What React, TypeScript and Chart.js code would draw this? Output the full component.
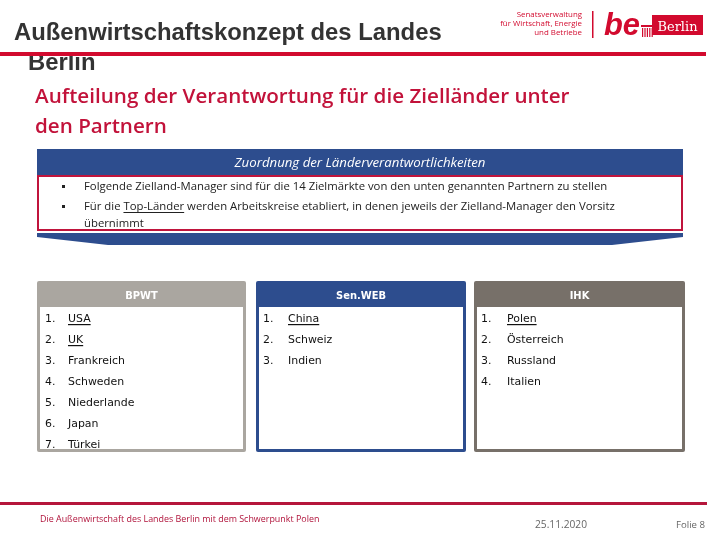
import React, { useEffect, useRef } from "react";
import { Chart, registerables } from "chart.js";

Chart.register(...registerables);

// ---------- content ----------
const titleLines = ["Außenwirtschaftskonzept des Landes", "Berlin"];
const subtitleLines = ["Aufteilung der Verantwortung für die Zielländer unter", "den Partnern"];
const bannerTitle = "Zuordnung der Länderverantwortlichkeiten";
const bulletLines = [
  "Folgende Zielland-Manager sind für die 14 Zielmärkte von den unten genannten Partnern zu stellen",
  "Für die Top-Länder werden Arbeitskreise etabliert, in denen jeweils der Zielland-Manager den Vorsitz",
];
const bulletContinuation = "übernimmt";
const underlinedPhrase = "Top-Länder";
const partners = ["BPWT", "Sen.WEB", "IHK"];
const bpwtCountries = ["USA", "UK", "Frankreich", "Schweden", "Niederlande", "Japan", "Türkei"];
const senwebCountries = ["China", "Schweiz", "Indien"];
const ihkCountries = ["Polen", "Österreich", "Russland", "Italien"];
const topCountries = ["USA", "UK", "China", "Polen"];
const logoLines = ["Senatsverwaltung", "für Wirtschaft, Energie", "und Betriebe"];
const logoWord = "be";
const logoBox = "Berlin";
const footerText = "Die Außenwirtschaft des Landes Berlin mit dem Schwerpunkt Polen";
const footerDate = "25.11.2020";
const footerSlide = "Folie 8";

const RED = "#d20a2e";
const DARKRED = "#b5163b";
const BLUE = "#2d4d8e";
const GREY1 = "#aaa6a0";
const GREY2 = "#777069";

function fontStr(style: string, weight: string, size: number, family: string) {
  return `${style} ${weight} ${size}px ${family}`;
}

function sizeFor(ctx: CanvasRenderingContext2D, text: string, family: string, weight: string, style: string, width: number) {
  ctx.font = fontStr(style, weight, 20, family);
  const w = ctx.measureText(text).width;
  return (20 * width) / w;
}

function fitText(
  ctx: CanvasRenderingContext2D,
  text: string,
  x: number,
  y: number,
  width: number,
  family: string,
  weight: string,
  style: string,
  color: string,
  align: CanvasTextAlign = "left"
) {
  const size = sizeFor(ctx, text, family, weight, style, width);
  ctx.font = fontStr(style, weight, size, family);
  ctx.fillStyle = color;
  ctx.textAlign = align;
  ctx.textBaseline = "alphabetic";
  ctx.fillText(text, x, y);
  return size;
}

function roundRect(ctx: CanvasRenderingContext2D, x: number, y: number, w: number, h: number, r: number) {
  ctx.beginPath();
  ctx.moveTo(x + r, y);
  ctx.lineTo(x + w - r, y);
  ctx.quadraticCurveTo(x + w, y, x + w, y + r);
  ctx.lineTo(x + w, y + h - r);
  ctx.quadraticCurveTo(x + w, y + h, x + w - r, y + h);
  ctx.lineTo(x + r, y + h);
  ctx.quadraticCurveTo(x, y + h, x, y + h - r);
  ctx.lineTo(x, y + r);
  ctx.quadraticCurveTo(x, y, x + r, y);
  ctx.closePath();
}

const slidePlugin = {
  id: "slide",
  beforeDraw(chart: any) {
    const ctx: CanvasRenderingContext2D = chart.ctx;
    ctx.save();
    ctx.fillStyle = "#ffffff";
    ctx.fillRect(0, 0, chart.width, chart.height);

    // ---- title ----
    const tSize = sizeFor(ctx, titleLines[0], "'Liberation Sans', Arial", "bold", "normal", 428);
    ctx.font = fontStr("normal", "bold", tSize, "'Liberation Sans', Arial");
    ctx.fillStyle = "#333333";
    ctx.textAlign = "left";
    ctx.fillText(titleLines[0], 14, 40);
    ctx.fillText(titleLines[1], 28, 70);
    // red rule (over the second title line)
    ctx.fillStyle = RED;
    ctx.fillRect(0, 52, 706, 4);

    // ---- logo ----
    const logoSize = sizeFor(ctx, logoLines[1], "'Open Sans'", "normal", "normal", 82);
    ctx.font = fontStr("normal", "normal", logoSize, "'Open Sans'");
    ctx.fillStyle = RED;
    ctx.textAlign = "right";
    logoLines.forEach((l, i) => ctx.fillText(l, 582, 17 + i * 9));
    ctx.fillRect(592, 11, 1.5, 27);
    fitText(ctx, logoWord, 604, 35, 36, "'Liberation Sans'", "bold", "italic", RED);
    // gate icon
    ctx.fillStyle = RED;
    ctx.fillRect(641, 25, 12, 2);
    for (let i = 0; i < 5; i++) ctx.fillRect(642 + i * 2.4, 28, 1.2, 9);
    ctx.fillRect(652, 15, 51, 20);
    fitText(ctx, logoBox, 677.5, 31, 40, "'DejaVu Serif'", "normal", "normal", "#ffffff", "center");

    // ---- subtitle ----
    const subSize = sizeFor(ctx, subtitleLines[0], "'Open Sans'", "600", "normal", 535);
    ctx.font = fontStr("normal", "600", subSize, "'Open Sans'");
    ctx.fillStyle = "#c2123a";
    ctx.textAlign = "left";
    ctx.fillText(subtitleLines[0], 35, 103);
    ctx.fillText(subtitleLines[1], 35, 133);

    // ---- banner ----
    ctx.fillStyle = BLUE;
    ctx.fillRect(37, 149, 646, 26);
    fitText(ctx, bannerTitle, 360, 167, 251, "'Open Sans'", "normal", "italic", "#ffffff", "center");

    // red framed box
    ctx.save();
    ctx.beginPath();
    ctx.rect(38, 175, 644, 55);
    ctx.clip();
    const bSize = sizeFor(ctx, bulletLines[0], "'Open Sans'", "normal", "normal", 524);
    ctx.font = fontStr("normal", "normal", bSize, "'Open Sans'");
    ctx.fillStyle = "#222222";
    ctx.textAlign = "left";
    const bys = [190, 210];
    bulletLines.forEach((l, i) => {
      ctx.fillRect(62, bys[i] - 5, 3, 3);
      ctx.fillText(l, 84, bys[i]);
    });
    const pre = bulletLines[1].slice(0, bulletLines[1].indexOf(underlinedPhrase));
    const ux = 84 + ctx.measureText(pre).width;
    const uw = ctx.measureText(underlinedPhrase).width;
    ctx.fillRect(ux, 212, uw, 1);
    ctx.fillText(bulletContinuation, 84, 227);
    ctx.restore();
    ctx.strokeStyle = "#c0143c";
    ctx.lineWidth = 2;
    ctx.strokeRect(38, 176, 644, 54);

    // chevron
    ctx.fillStyle = BLUE;
    ctx.beginPath();
    ctx.moveTo(37, 233);
    ctx.lineTo(683, 233);
    ctx.lineTo(683, 237);
    ctx.lineTo(612, 245);
    ctx.lineTo(108, 245);
    ctx.lineTo(37, 237);
    ctx.closePath();
    ctx.fill();

    // ---- partner columns ----
    const cols = [
      { x: 37, w: 209, color: GREY1, list: bpwtCountries, nx: 45, tx: 68 },
      { x: 256, w: 210, color: BLUE, list: senwebCountries, nx: 263, tx: 288 },
      { x: 474, w: 211, color: GREY2, list: ihkCountries, nx: 481, tx: 507 },
    ];
    const listSize = sizeFor(ctx, "Frankreich", "'DejaVu Sans'", "normal", "normal", 57);
    const headSize = sizeFor(ctx, partners[1], "'DejaVu Sans'", "bold", "normal", 50);
    cols.forEach((c, ci) => {
      const top = 281;
      const bottom = 452;
      ctx.fillStyle = c.color;
      roundRect(ctx, c.x, top, c.w, bottom - top, 2);
      ctx.fill();
      ctx.fillStyle = "#ffffff";
      ctx.fillRect(c.x + 3, 307, c.w - 6, bottom - 307 - 3);
      ctx.font = fontStr("normal", "bold", headSize, "'DejaVu Sans'");
      ctx.textAlign = "center";
      ctx.fillText(partners[ci], c.x + c.w / 2, 299);

      ctx.font = fontStr("normal", "normal", listSize, "'DejaVu Sans'");
      ctx.textAlign = "left";
      ctx.fillStyle = "#111111";
      c.list.forEach((name, i) => {
        const y = 322 + i * 21;
        ctx.fillText(`${i + 1}.`, c.nx, y);
        ctx.fillText(name, c.tx, y);
        if (topCountries.includes(name)) {
          const w = ctx.measureText(name).width;
          ctx.fillRect(c.tx, y + 2, w, 1.2);
        }
      });
    });

    // ---- footer ----
    ctx.fillStyle = DARKRED;
    ctx.fillRect(0, 502, 707, 3);
    fitText(ctx, footerText, 40, 522, 280, "'Open Sans'", "normal", "normal", "#b0123a");
    fitText(ctx, footerDate, 535, 528, 52, "'Open Sans'", "normal", "normal", "#666666");
    fitText(ctx, footerSlide, 705, 528, 29, "'Open Sans'", "normal", "normal", "#666666", "right");

    ctx.restore();
  },
};

export default function App() {
  const ref = useRef<HTMLCanvasElement | null>(null);
  useEffect(() => {
    if (!ref.current) return;
    const chart = new Chart(ref.current, {
      type: "scatter",
      data: { datasets: [] },
      options: {
        responsive: false,
        animation: false,
        devicePixelRatio: 1,
        layout: { padding: 0 },
        plugins: { legend: { display: false }, tooltip: { enabled: false }, title: { display: false } },
        scales: { x: { display: false }, y: { display: false } },
      },
      plugins: [slidePlugin as any],
    });
    return () => chart.destroy();
  }, []);
  return (
    <div style={{ position: "absolute", left: 0, top: 0, width: 720, height: 540, background: "#fff" }}>
      <canvas ref={ref} width={720} height={540} style={{ display: "block", width: 720, height: 540 }} />
    </div>
  );
}
